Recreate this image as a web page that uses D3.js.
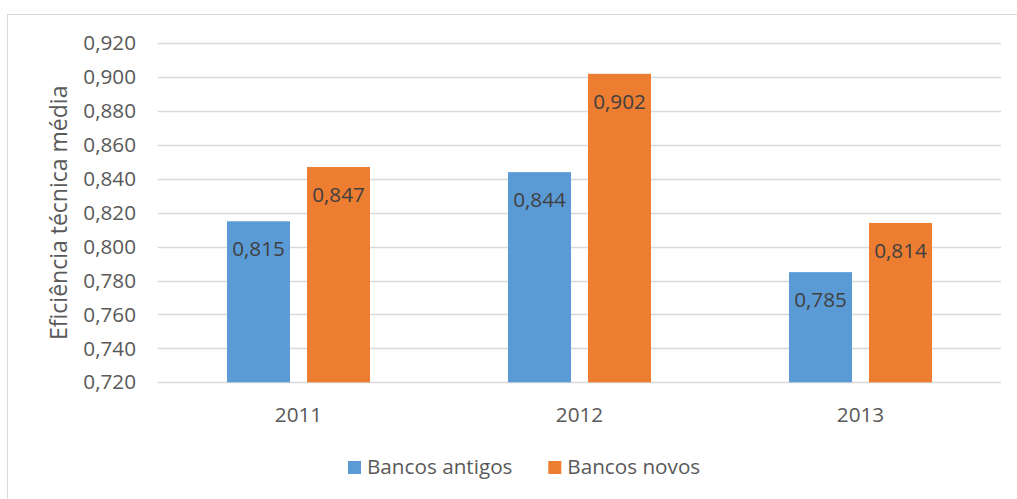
<!DOCTYPE html>
<html><head><meta charset="utf-8">
<script src="https://cdn.jsdelivr.net/npm/d3@7"></script>
<style>html,body{margin:0;padding:0;background:#fff;}svg{display:block;}</style>
</head><body>
<script>
const categories = ["2011", "2012", "2013"];
const seriesNames = ["Bancos antigos", "Bancos novos"];
const bancosAntigos = [0.815, 0.844, 0.785];
const bancosNovos = [0.847, 0.902, 0.814];
const yTicks = [0.72, 0.74, 0.76, 0.78, 0.80, 0.82, 0.84, 0.86, 0.88, 0.90, 0.92];
const colors = ["#5B9BD5", "#ED7D31"];
const yTitle = "Eficiência técnica média";

const W = 1017, H = 499;
const font = "'Open Sans', 'Noto Sans', sans-serif";
const fs = 20.7;
const fmt = v => d3.format(".3f")(v).replace(".", ",");

const svg = d3.select("body").append("svg").attr("width", W).attr("height", H);
svg.append("rect").attr("x", 7.5).attr("y", 14.5).attr("width", 1020).attr("height", 500)
  .attr("fill", "#fff").attr("stroke", "#D9D9D9").attr("stroke-width", 1);

const x0 = d3.scaleBand().domain(categories).range([158, 1001]);
const y = d3.scaleLinear().domain([0.72, 0.92]).range([382.3, 43.3]);
const x1 = d3.scaleBand().domain(seriesNames).range([0, 143]).paddingInner(17/80);

// gridlines
svg.append("g").selectAll("line").data(yTicks).join("line")
  .attr("x1", 158).attr("x2", 1001)
  .attr("y1", d => Math.round(y(d)) + 0.5).attr("y2", d => Math.round(y(d)) + 0.5)
  .attr("stroke", "#D9D9D9").attr("stroke-width", 1.5);

// y axis labels
const yAxis = d3.axisLeft(y).tickValues(yTicks).tickFormat(fmt).tickSize(0).tickPadding(0);
const gy = svg.append("g").attr("transform", "translate(136,0)").call(yAxis);
gy.select(".domain").remove();
gy.selectAll("text").attr("font-family", font).attr("font-size", fs).attr("fill", "#595959");

// x axis labels
const xAxis = d3.axisBottom(x0).tickSize(0).tickPadding(0);
const gx = svg.append("g").attr("transform", "translate(0,421.7)").call(xAxis);
gx.select(".domain").remove();
gx.selectAll("text").attr("dy", 0).attr("y", 0)
  .attr("font-family", font).attr("font-size", fs).attr("fill", "#595959");

const data = categories.map((c, i) => ({cat: c, vals: [
  {s: seriesNames[0], v: bancosAntigos[i], c: colors[0]},
  {s: seriesNames[1], v: bancosNovos[i], c: colors[1]}]}));

const groups = svg.append("g").selectAll("g").data(data).join("g")
  .attr("transform", d => `translate(${x0(d.cat) + (x0.bandwidth() - 143) / 2},0)`);

groups.selectAll("rect").data(d => d.vals).join("rect")
  .attr("x", d => x1(d.s)).attr("width", x1.bandwidth())
  .attr("y", d => y(d.v)).attr("height", d => y(0.72) - y(d.v))
  .attr("fill", d => d.c);

groups.selectAll("text").data(d => d.vals).join("text")
  .attr("x", d => x1(d.s) + x1.bandwidth() / 2)
  .attr("y", d => y(d.v) + 35)
  .attr("text-anchor", "middle")
  .attr("font-family", font).attr("font-size", fs).attr("fill", "#404040")
  .text(d => fmt(d.v));

// y title
svg.append("text")
  .attr("transform", `translate(67,${(y(0.72) + y(0.92)) / 2}) rotate(-90)`)
  .attr("text-anchor", "middle")
  .attr("font-family", font).attr("font-size", 23).attr("fill", "#595959")
  .text(yTitle);

// legend
const legendX = [348, 548.3];
const lg = svg.append("g").selectAll("g").data(seriesNames).join("g")
  .attr("transform", (d, i) => `translate(${legendX[i]},0)`);
lg.append("rect").attr("x", 0).attr("y", 461).attr("width", 13).attr("height", 13)
  .attr("fill", (d, i) => colors[i]);
lg.append("text").attr("x", 19).attr("y", 474.3)
  .attr("font-family", font).attr("font-size", fs).attr("fill", "#595959")
  .text(d => d);
</script>
</body></html>
